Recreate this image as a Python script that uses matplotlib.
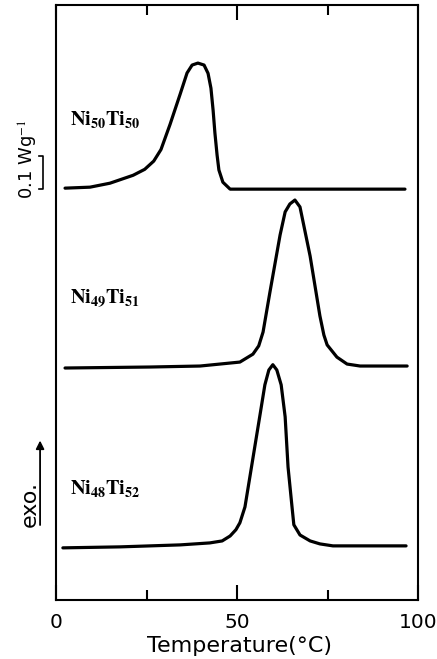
import matplotlib
matplotlib.use("Agg")
import matplotlib.pyplot as plt
import matplotlib.transforms as mtransforms

plt.rcParams['mathtext.fontset'] = 'stix'

# ---------------- data ----------------
# Temperature (deg C) and heat flow above each trace's baseline (mW/g)
t_5050 = [2.5, 9.4, 14.9, 21.3, 24.5, 27.0, 29.0, 31.5, 34.3, 36.2, 37.6, 39.2,
          40.9, 42.0, 42.8, 43.4, 43.9, 44.5, 45.0, 46.1, 48.1, 96.4]
q_5050 = [3, 6, 18, 42, 60, 85, 120, 196, 288, 352, 376, 382,
          376, 351, 306, 239, 170, 103, 58, 21, 0, 0]

t_4951 = [2.5, 26.0, 39.8, 45.3, 50.8, 54.4, 56.0, 57.2, 59.1, 61.9, 63.3, 64.6,
          66.0, 67.4, 70.2, 72.9, 74.0, 74.9, 77.6, 80.4, 84.0, 97.0]
q_4951 = [-3, 0, 3, 9, 15, 39, 64, 106, 227, 400, 470, 494,
          506, 485, 336, 155, 97, 67, 30, 9, 3, 3]

t_4852 = [1.9, 17.7, 34.3, 42.5, 45.9, 48.1, 49.7, 50.8, 52.2, 53.6, 55.0, 56.4,
          57.7, 58.8, 59.9, 61.0, 62.2, 63.3, 64.1, 65.2, 65.7, 67.4, 70.2, 72.9,
          76.5, 96.7]
q_4852 = [0, 3, 9, 15, 21, 36, 55, 76, 124, 218, 312, 406,
          494, 539, 555, 539, 494, 397, 245, 124, 70, 39, 21, 12,
          6, 6]

labels = [r'$\mathbf{Ni_{50}Ti_{50}}$', r'$\mathbf{Ni_{49}Ti_{51}}$', r'$\mathbf{Ni_{48}Ti_{52}}$']
baselines = [1.245, 0.706, 0.158]   # W/g, vertical offsets of the traces
label_y = [0.807, 0.508, 0.188]     # axes fraction
scale_bar = 0.1                     # W/g
x_ticklabels = ['0', '50', '100']

# ---------------- figure ----------------
fig = plt.figure(figsize=(4.37, 6.59), dpi=100)
ax = fig.add_axes([56 / 437, 1 - 600 / 659, 362 / 437, 595 / 659])

series = [(t_5050, q_5050), (t_4951, q_4951), (t_4852, q_4852)]
for (t, q), b in zip(series, baselines):
    ax.plot(t, [b + v / 1000.0 for v in q], color='black', lw=2.3,
            solid_joinstyle='round', solid_capstyle='round')

ax.set_xlim(0, 100)
ax.set_ylim(0, 1.803)
ax.set_yticks([])
ax.set_xticks([0, 50, 100])
ax.set_xticklabels(x_ticklabels)
ax.set_xticks([25, 75], minor=True)
ax.tick_params(axis='x', which='major', direction='in', length=11, width=1.5,
               top=True, bottom=True, labelsize=14.5, pad=9)
ax.tick_params(axis='x', which='minor', direction='in', length=7, width=1.5,
               top=True, bottom=True)
for s in ax.spines.values():
    s.set_linewidth(1.5)

ax.text(0.508, -0.077, 'Temperature(°C)', transform=ax.transAxes,
        ha='center', va='center', fontsize=16)

for lab, y in zip(labels, label_y):
    ax.text(0.04, y, lab, transform=ax.transAxes, ha='left', va='center',
            fontsize=14.5)

# scale bar 0.1 W/g (x in axes coords, y in data coords)
trans = mtransforms.blended_transform_factory(ax.transAxes, ax.transData)
b0 = baselines[0]
ax.plot([-0.047, -0.036, -0.036, -0.047], [b0 + scale_bar, b0 + scale_bar, b0, b0],
        color='black', lw=1.2, transform=trans, clip_on=False)
ax.text(-0.075, b0 + 0.09, r'0.1 Wg$^{-1}$', transform=trans, rotation=90,
        ha='center', va='center', fontsize=13)

# exo arrow
ax.annotate('', xy=(-0.044, 0.268), xytext=(-0.044, 0.126),
            xycoords='axes fraction', textcoords='axes fraction',
            arrowprops=dict(arrowstyle='-|>', color='black', lw=1.3,
                            mutation_scale=12, shrinkA=0, shrinkB=0),
            annotation_clip=False)
ax.text(-0.072, 0.161, 'exo.', transform=ax.transAxes, rotation=90,
        ha='center', va='center', fontsize=16)

fig.savefig('out.png', dpi=100)
